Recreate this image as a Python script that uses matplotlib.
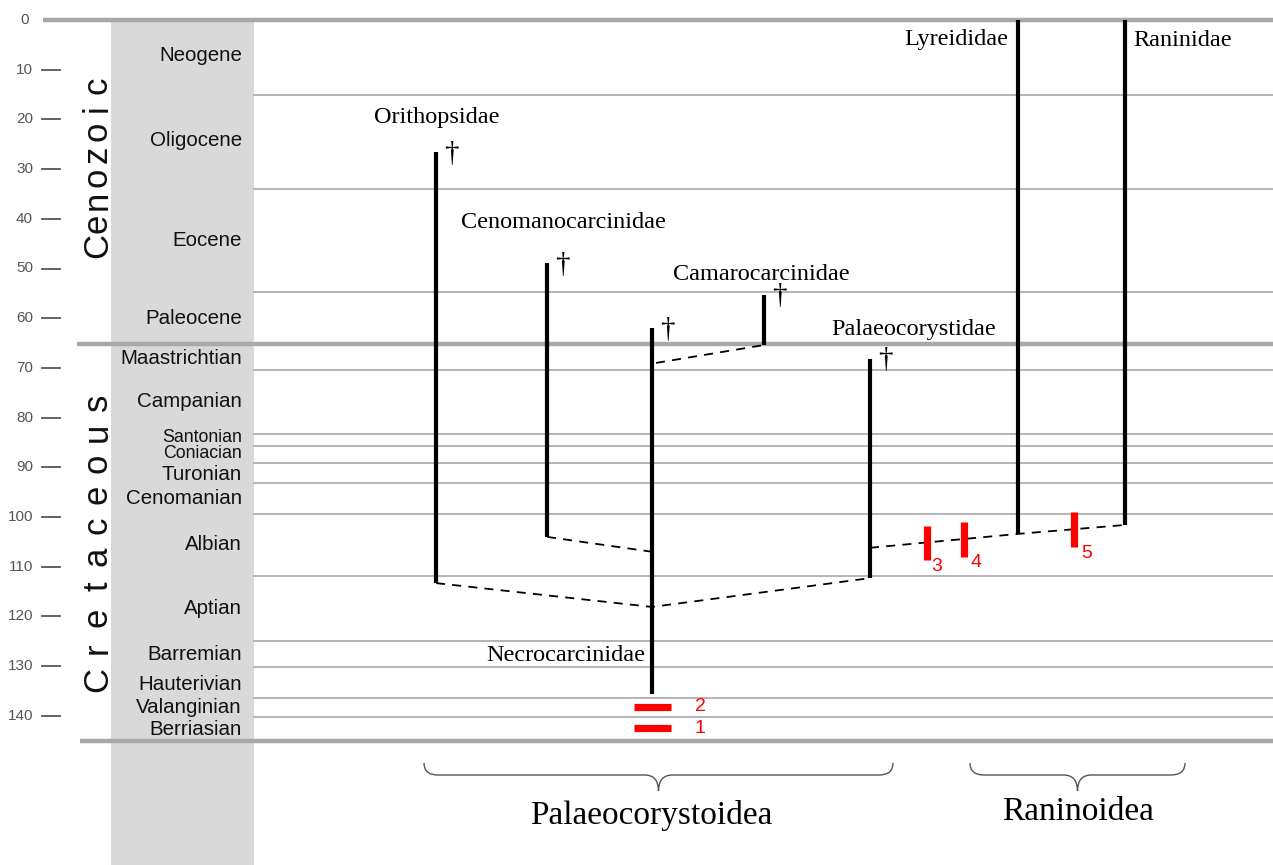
import numpy as np
import matplotlib
matplotlib.use("Agg")
import matplotlib.pyplot as plt
from matplotlib.path import Path
from matplotlib.patches import PathPatch

# ---------------- data ----------------
tick_values = [0, 10, 20, 30, 40, 50, 60, 70, 80, 90, 100, 110, 120, 130, 140]

stage_names = ["Neogene", "Oligocene", "Eocene", "Paleocene", "Maastrichtian", "Campanian",
               "Santonian", "Coniacian", "Turonian", "Cenomanian", "Albian", "Aptian",
               "Barremian", "Hauterivian", "Valanginian", "Berriasian"]
stage_label_ma = [7.2, 24.2, 44.3, 60.0, 68.2, 76.7, 84.0, 87.2, 91.4, 96.3, 105.6, 118.5,
                  127.6, 133.8, 138.4, 142.7]
stage_small = [False, False, False, False, False, False, True, True, False, False, False, False,
               False, False, False, False]
stage_bounds = [15.1, 34.0, 54.7, 70.4, 83.3, 85.7, 89.1, 93.2, 99.4, 111.9, 125.0, 130.2,
                136.4, 140.2]
major_bounds = [0, 65.2, 145]
era_names = ["Cenozoic", "Cretaceous"]

taxa = ["Orithopsidae", "Cenomanocarcinidae", "Necrocarcinidae", "Camarocarcinidae",
        "Palaeocorystidae", "Lyreididae", "Raninidae"]
taxa_top = [26.6, 48.9, 62.0, 55.3, 68.2, 0.0, 0.0]
taxa_base = [113.3, 104.0, 135.6, 65.4, 112.3, 103.4, 101.6]
taxa_extinct = [True, True, True, True, True, False, False]

# red fossil-record bars
red_v_top = [101.8, 101.0, 99.0]
red_v_base = [108.7, 108.0, 106.0]
red_v_labels = ["3", "4", "5"]
red_h_ma = [142.5, 138.2]
red_h_labels = ["1", "2"]

superfamilies = ["Palaeocorystoidea", "Raninoidea"]

# ---------------- layout ----------------
W, H = 1273, 865
PX_PER_MA = 4.97
Y0 = 20.0
def ma(py):
    return (py - Y0) / PX_PER_MA

taxa_x = [436, 547, 652, 764, 870, 1018, 1125]
taxa_label_xy = [(437, ma(118), "center"), (563, ma(222), "center"), (645, ma(655), "right"),
                 (761, ma(274), "center"), (914, ma(329), "center"), (1008, ma(40), "right"),
                 (1133, ma(40), "left")]
red_v_x = [927, 964, 1074]
red_v_lab_xy = [(937, ma(566)), (976, ma(562)), (1087, ma(553))]
red_h_x = (634, 671)
brace_x = [(424, 893), (970, 1185)]
brace_lab = [(651, ma(815)), (1078, ma(812))]
era_first_last_py = [(246, 85), (679, 402)]

fig = plt.figure(figsize=(W / 100, H / 100), dpi=100)
ax = fig.add_axes([0, 0, 1, 1])
ax.set_xlim(0, W)
ax.set_ylim(ma(H), ma(0))
ax.axis("off")

sans = ["Liberation Sans", "DejaVu Sans"]
serif = ["Liberation Serif", "DejaVu Serif"]

# grey column
ax.fill_between([111, 254], ma(20), ma(H), color="#d9d9d9", lw=0, zorder=0)

# stage boundaries
for b in stage_bounds:
    ax.plot([254, W], [b, b], color="#b4b4b4", lw=1.4, zorder=1)
major_x0 = [43, 77, 80]
for b, x0 in zip(major_bounds, major_x0):
    ax.plot([x0, W], [b, b], color="#a8a8a8", lw=3.2, solid_capstyle="butt", zorder=2)

# ticks
for t in tick_values[1:]:
    ax.plot([42, 60], [t, t], color="#555555", lw=1.3)
for t in tick_values:
    ax.text(33 if t else 29, t, str(t), ha="right", va="center", fontsize=11,
            color="#555555", family=sans)

# stage labels
for name, y, small in zip(stage_names, stage_label_ma, stage_small):
    ax.text(242, y, name, ha="right", va="center", fontsize=12.8 if small else 14.8,
            color="#111111", family=sans)

# era labels (letter-spaced, rotated)
for name, (p0, p1) in zip(era_names, era_first_last_py):
    ys = np.linspace(p0, p1, len(name))
    for ch, py in zip(name, ys):
        ax.text(107, ma(py), ch, rotation=90, rotation_mode="anchor", ha="center",
                va="baseline", fontsize=25, family=sans, color="#111111")

# dashed connections
dash = dict(color="black", lw=1.3, ls=(0, (5, 4)), zorder=3)
i = {n: k for k, n in enumerate(taxa)}
ax.plot([taxa_x[i["Orithopsidae"]], taxa_x[i["Necrocarcinidae"]], taxa_x[i["Palaeocorystidae"]]],
        [taxa_base[i["Orithopsidae"]], 118.1, taxa_base[i["Palaeocorystidae"]]], **dash)
ax.plot([taxa_x[i["Cenomanocarcinidae"]], taxa_x[i["Necrocarcinidae"]]],
        [taxa_base[i["Cenomanocarcinidae"]], 107.0], **dash)
ax.plot([taxa_x[i["Necrocarcinidae"]] + 4, taxa_x[i["Camarocarcinidae"]]],
        [69.0, taxa_base[i["Camarocarcinidae"]]], **dash)
ax.plot([taxa_x[i["Palaeocorystidae"]], taxa_x[i["Lyreididae"]], taxa_x[i["Raninidae"]]],
        [106.2, taxa_base[i["Lyreididae"]], taxa_base[i["Raninidae"]]], **dash)

# lineages
for x, t, b, ext in zip(taxa_x, taxa_top, taxa_base, taxa_extinct):
    ax.plot([x, x], [t, b], color="black", lw=3.0, solid_capstyle="butt", zorder=4)
    if ext:
        ax.text(x + 15, t + 0.3, "\u2020", ha="center", va="center", fontsize=21,
                family=serif, color="black")

for name, (x, y, ha) in zip(taxa, taxa_label_xy):
    ax.text(x, y, name, ha=ha, va="center", fontsize=17.5, family=serif, color="black")

# red bars
for x, t, b, lab, (lx, ly) in zip(red_v_x, red_v_top, red_v_base, red_v_labels, red_v_lab_xy):
    ax.plot([x, x], [t, b], color="#ff0000", lw=5.2, solid_capstyle="butt", zorder=5)
    ax.text(lx, ly, lab, ha="center", va="center", fontsize=14, color="#ff0000", family=sans)
for y, lab in zip(red_h_ma, red_h_labels):
    ax.plot(list(red_h_x), [y, y], color="#ff0000", lw=5.2, solid_capstyle="butt", zorder=5)
    ax.text(700, y, lab, ha="center", va="center", fontsize=14, color="#ff0000", family=sans)

# braces
def brace(x1, x2, ytop, ymid, ytip):
    xm = (x1 + x2) / 2
    r = 14
    verts = [(x1, ytop), (x1, ymid), (x1 + r, ymid),
             (xm - r, ymid), (xm, ymid), (xm, ytip),
             (xm, ymid), (xm + r, ymid),
             (x2 - r, ymid), (x2, ymid), (x2, ytop)]
    codes = [Path.MOVETO, Path.CURVE3, Path.CURVE3,
             Path.LINETO, Path.CURVE3, Path.CURVE3,
             Path.CURVE3, Path.CURVE3,
             Path.LINETO, Path.CURVE3, Path.CURVE3]
    return PathPatch(Path(verts, codes), fill=False, edgecolor="#555555", lw=1.0)

for (x1, x2), name, (lx, ly) in zip(brace_x, superfamilies, brace_lab):
    ax.add_patch(brace(x1, x2, ma(763), ma(775), ma(791)))
    ax.text(lx, ly, name, ha="center", va="center", fontsize=24, family=serif, color="black")

fig.savefig("out.png", dpi=100)
